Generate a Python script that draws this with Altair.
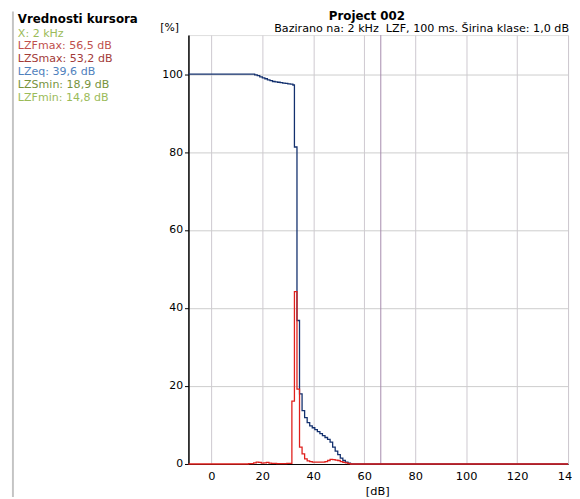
import altair as alt
import pandas as pd

# ---------------- data ----------------
# cumulative distribution (blue), step-after positions in dB and values in %
blue_db = [-9, 16, 17, 18, 19, 20, 21, 22, 23, 24, 25, 26, 27, 28, 29, 30, 31, 32,
           32.6, 33.6, 34.6, 35.6, 36.6, 37.6, 38.6, 39.6, 40.6, 41.6, 42.6, 43.6,
           44.6, 45.6, 46.6, 47.6, 48.6, 49.6, 50.6, 51.6, 52.6, 53.6, 54.6, 140]
blue_pct = [100, 100, 99.8, 99.6, 99.3, 99.0, 98.8, 98.5, 98.3, 98.1, 98.0, 97.9, 97.8,
            97.7, 97.6, 97.5, 97.4, 97.2,
            81.3, 36.8, 18.0, 13.7, 11.9, 10.6, 9.8, 9.3, 8.8, 8.3, 7.8, 7.3,
            6.8, 6.3, 5.6, 4.3, 3.3, 2.4, 1.5, 0.9, 0.5, 0.2, 0.0, 0.0]

# probability distribution (red)
red_db = [-9, 14.6, 16.6, 17.6, 18.6, 19.6, 20.6, 21.6, 22.6, 23.6, 25.6, 29.6,
          31.6, 32.6, 33.6, 34.6, 35.6, 36.6, 37.6, 38.6, 39.6, 40.6, 41.6, 42.6,
          43.6, 44.6, 45.6, 46.6, 47.6, 48.6, 49.6, 50.6, 51.6, 52.6, 53.6, 54.6, 140]
red_pct = [0, 0.1, 0.3, 0.5, 0.4, 0.2, 0.3, 0.4, 0.2, 0.15, 0.1, 0.15,
           16.1, 44.2, 19.2, 4.3, 2.6, 1.3, 0.8, 0.6, 0.5, 0.5, 0.5, 0.5,
           0.5, 0.6, 0.9, 1.2, 1.1, 1.0, 0.9, 0.6, 0.4, 0.3, 0.1, 0.0, 0.0]

cursor_db = [66.5]

x_ticks = [0, 20, 40, 60, 80, 100, 120, 140]
y_ticks = [0, 20, 40, 60, 80, 100]

cursor_title = "Vrednosti kursora"
cursor_lines = ["X: 2 kHz", "LZFmax: 56,5 dB", "LZSmax: 53,2 dB",
                "LZeq: 39,6 dB", "LZSmin: 18,9 dB", "LZFmin: 14,8 dB"]
cursor_colors = ["#9bbb59", "#c0504d", "#a23b38", "#4f81bd", "#77933c", "#9bbb59"]

title_text = "Project 002"
subtitle_text = "Bazirano na: 2 kHz\u00a0 LZF, 100 ms. Širina klase: 1,0 dB"

FONT = "DejaVu Sans"
W, H = 385, 435

blue_df = pd.DataFrame({"db": blue_db, "pct": blue_pct})
red_df = pd.DataFrame({"db": red_db, "pct": red_pct})
cur_df = pd.DataFrame({"db": cursor_db})

xscale = alt.Scale(domain=[-9, 140], nice=False, zero=False)
yscale = alt.Scale(domain=[0, 110], nice=False)

xaxis = alt.Axis(values=x_ticks, title=None, ticks=False, labelPadding=7,
                 grid=True, gridColor="#cdc8cf", domainColor="#000000",
                 labelFont=FONT, labelFontSize=11.5, labelColor="#000000",
                 labelFlush=False, labelOverlap=False)
yaxis = alt.Axis(values=y_ticks, title=None, tickSize=4, tickColor="#000000",
                 labelPadding=2, grid=True, gridColor="#cccccc",
                 domainColor="#000000", domainWidth=1.5,
                 labelFont=FONT, labelFontSize=11, labelColor="#000000")

cursor_rule = alt.Chart(cur_df).mark_rule(color="#a58aac", strokeWidth=1).encode(
    x=alt.X("db:Q", scale=xscale, axis=xaxis)
)

blue_line = alt.Chart(blue_df).mark_line(
    interpolate="step-after", color="#13306e", strokeWidth=1.3
).encode(
    x=alt.X("db:Q", scale=xscale, axis=xaxis),
    y=alt.Y("pct:Q", scale=yscale, axis=yaxis),
)

red_line = alt.Chart(red_df).mark_line(
    interpolate="step-after", color="#e0201c", strokeWidth=1.3
).encode(
    x=alt.X("db:Q", scale=xscale),
    y=alt.Y("pct:Q", scale=yscale),
)

def txt(s, x, y, color="#000000", size=11, weight="normal", align="left"):
    return alt.Chart(pd.DataFrame({"t": [s]})).mark_text(
        font=FONT, fontSize=size, fontWeight=weight, color=color,
        align=align, baseline="middle"
    ).encode(x=alt.value(x), y=alt.value(y), text="t:N")

texts = [
    txt(title_text, 181, -19, size=12, weight="bold", align="center"),
    txt(subtitle_text, 386, -6, size=11.3, align="right"),
    txt("[%]", -19, -7, size=11, align="center"),
    txt("[dB]", 192, 463, size=11.5, align="center"),
    txt(cursor_title, -173, -16, size=12, weight="bold"),
]
ys = [-1.3, 11.6, 24.3, 37.3, 50.3, 63.6]
for s, c, yy in zip(cursor_lines, cursor_colors, ys):
    texts.append(txt(s, -173, yy, color=c, size=11.2))

bar = alt.Chart(pd.DataFrame({"a": [0]})).mark_rule(
    color="#c4c4c4", strokeWidth=2
).encode(x=alt.value(-178), y=alt.value(-24), y2=alt.value(470))

chart = alt.layer(cursor_rule, blue_line, red_line, bar, *texts).properties(
    width=W, height=H,
    autosize=alt.AutoSizeParams(type="none"),
    padding={"left": 183, "top": 24, "right": 4, "bottom": 30},
).configure_view(stroke=None).configure(background="#ffffff")

chart.save("out.html", embed_options={"renderer": "svg", "actions": False})
